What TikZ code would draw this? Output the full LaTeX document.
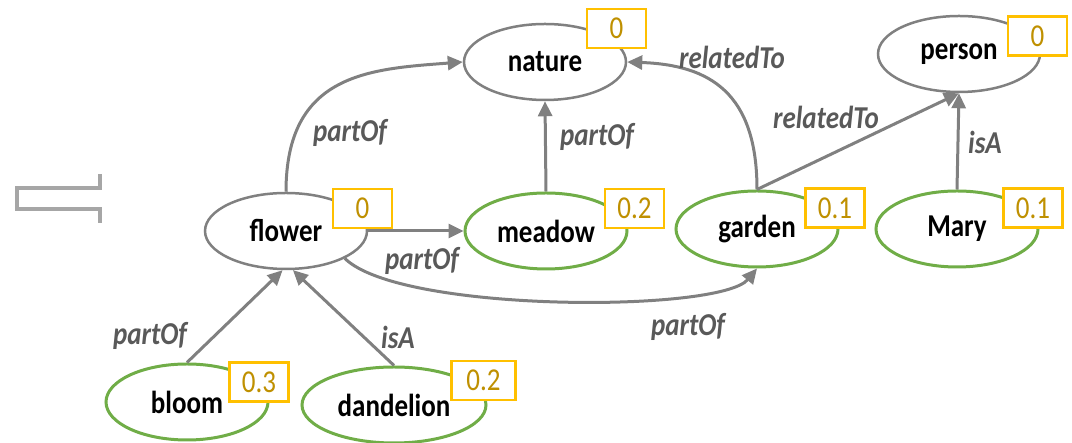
\documentclass[tikz,border=0pt]{standalone}
\usepackage{fontspec}
\usepackage{graphicx}
\setmainfont{Carlito}
\usetikzlibrary{shapes.geometric,arrows.meta}
\definecolor{edgegray}{HTML}{808080}
\definecolor{labgray}{HTML}{595959}
\definecolor{nodegreen}{HTML}{70AD47}
\definecolor{boxgold}{HTML}{FFC000}
\definecolor{numgold}{HTML}{BF9000}
\definecolor{symgray}{HTML}{A6A6A6}
\newcommand{\tallt}[1]{\scalebox{1}[1.18]{#1}}
\begin{document}
\begin{tikzpicture}[x=1pt,y=1pt,
  every node/.style={font=\fontsize{27}{32}\selectfont},
  concept/.style={ellipse, draw=edgegray, line width=2.5pt, inner sep=0pt,
    minimum width=162pt, minimum height=76pt, font=\fontsize{27}{32}\selectfont\bfseries, fill=white},
  seed/.style={concept, draw=nodegreen, line width=3pt},
  scorebox/.style={rectangle, draw=boxgold, line width=2.5pt, fill=white, text=numgold,
    minimum width=59pt, minimum height=39pt, inner sep=0pt},
  rel/.style={draw=edgegray, line width=3pt, -{Triangle[length=15pt,width=14pt]}},
  rellabel/.style={text=labgray, font=\fontsize{27}{32}\selectfont\bfseries\itshape, inner sep=0pt}
]
\useasboundingbox (0,0) rectangle (1072,443);

% left symbol
\draw[symgray, line width=3.5pt] (100,269) -- (100,255) -- (17,255) -- (17,234) -- (100,234) -- (100,220);

% concept nodes
\node[concept] (nature) at (545,381) {\tallt{nature}};
\node[concept] (person) at (959,389) {\tallt{person}};
\node[concept] (flower) at (286,212) {\tallt{flower}};
\node[seed] (meadow) at (546,212) {\tallt{meadow}};
\node[seed] (garden) at (757,214) {\tallt{garden}};
\node[seed] (mary) at (957,214) {\tallt{Mary}};
\node[seed] (bloom) at (187,41) {\tallt{bloom}};
\node[seed, minimum width=184pt] (dandelion) at (394,38) {\tallt{dandelion}};

% score boxes
\node[scorebox] (snature) at (616.5,414.5) {\tallt{0}};
\node[scorebox] (sperson) at (1037.5,407) {\tallt{0}};
\node[scorebox] (sflower) at (362.5,234.5) {\tallt{0}};
\node[scorebox] (smeadow) at (634.5,234.5) {\tallt{0.2}};
\node[scorebox] (sgarden) at (835,235) {\tallt{0.1}};
\node[scorebox] (smary) at (1033,235) {\tallt{0.1}};
\node[scorebox] (sbloom) at (259,61) {\tallt{0.3}};
\node[scorebox, minimum width=64pt] (sdandelion) at (483.5,62.5) {\tallt{0.2}};

% edges
\draw[rel] (flower.north) .. controls (286,370) and (370,374) .. (nature.west);
\draw[rel] (meadow.north) -- (nature.south);
\draw[rel] (garden.north) .. controls (757,350) and (710,378) .. (nature.east);
\draw[rel] (garden.north) -- (person.south);
\draw[rel] (mary.north) -- (person.south);
\draw[rel] (flower.east) -- (meadow.west);
\draw[rel] (flower.-25) .. controls (400,130) and (720,130) .. (garden.south);
\draw[rel] (bloom.north) -- (flower.265);
\draw[rel] (dandelion.north) -- (flower.280);

% edge labels
\node[rellabel] (l1) at (350,310) {\tallt{partOf}};
\node[rellabel] (l2) at (597,306) {\tallt{partOf}};
\node[rellabel] (l3) at (732,386) {\tallt{relatedTo}};
\node[rellabel] (l4) at (826,326) {\tallt{relatedTo}};
\node[rellabel] (l5) at (985,301) {\tallt{isA}};
\node[rellabel] (l6) at (422,182) {\tallt{partOf}};
\node[rellabel] (l7) at (688,116) {\tallt{partOf}};
\node[rellabel] (l8) at (150,107) {\tallt{partOf}};
\node[rellabel] (l9) at (398,106) {\tallt{isA}};
\end{tikzpicture}
\end{document}
